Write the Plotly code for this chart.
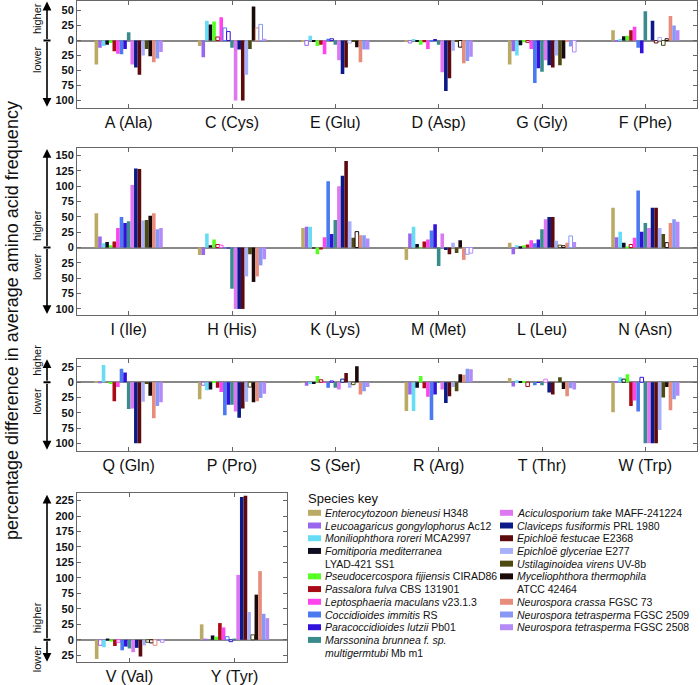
import plotly.graph_objects as go

W, H = 700, 685

# ---------------- data ----------------
SPECIES = [
    ["<i>Enterocytozoon bieneusi</i> H348"],
    ["<i>Leucoagaricus gongylophorus</i> Ac12"],
    ["<i>Moniliophthora roreri</i> MCA2997"],
    ["<i>Fomitiporia mediterranea</i>", "LYAD-421 SS1"],
    ["<i>Pseudocercospora fijiensis</i> CIRAD86"],
    ["<i>Passalora fulva</i> CBS 131901"],
    ["<i>Leptosphaeria maculans</i> v23.1.3"],
    ["<i>Coccidioides immitis</i> RS"],
    ["<i>Paracoccidioides lutzii</i> Pb01"],
    ["<i>Marssonina brunnea f. sp.</i>", "<i>multigermtubi</i> Mb m1"],
    ["<i>Aciculosporium take</i> MAFF-241224"],
    ["<i>Claviceps fusiformis</i> PRL 1980"],
    ["<i>Epichloë festucae</i> E2368"],
    ["<i>Epichloë glyceriae</i> E277"],
    ["<i>Ustilaginoidea virens</i> UV-8b"],
    ["<i>Myceliophthora thermophila</i>", "ATCC 42464"],
    ["<i>Neurospora crassa</i> FGSC 73"],
    ["<i>Neurospora tetrasperma</i> FGSC 2509"],
    ["<i>Neurospora tetrasperma</i> FGSC 2508"],
]
COLORS = ["#bbaa66", "#9966ee", "#66ddf5", "#0d0d1f", "#55ff22", "#aa0a14",
          "#ff44ee", "#4a7af0", "#3311dd", "#3a8c8c", "#dd77f2", "#0a1a88",
          "#5c0a0e", "#a8b0fa", "#4d4a12", "#1a0a0a", "#e88c7c", "#8899f5",
          "#b38af7"]

ROW1 = ["A (Ala)", "C (Cys)", "E (Glu)", "D (Asp)", "G (Gly)", "F (Phe)"]
ROW2 = ["I (Ile)", "H (His)", "K (Lys)", "M (Met)", "L (Leu)", "N (Asn)"]
ROW3 = ["Q (Gln)", "P (Pro)", "S (Ser)", "R (Arg)", "T (Thr)", "W (Trp)"]
ROW4 = ["V (Val)", "Y (Tyr)"]

# values per amino acid, one per species (order of SPECIES)
ala = [-40, -12, -9, -7, -4, -18, -22, -23, -14, 14, -40, -45, -57, -25, -14, -26, -36, -30, -19]
cys = [-9, -28, 33, 27, 32, 6, 39, 21, 15, -12, -100, -15, -100, -57, -14, 57, 21, 27, 2]
glu = [-2, -8, 8, -2, -9, -7, -23, 3, 3, -7, -33, -56, -45, -4, -2, -11, -36, -15, -15]
asp = [-1, -4, 1, -1, -7, -3, -14, -2, 1, -7, -53, -84, -63, -17, -2, -11, -38, -34, -27]
gly = [-40, -18, -25, -8, -3, -3, -14, -71, -46, -52, -33, -41, -45, -25, -41, -30, -1, -10, -19]
phe = [17, -1, 1, 7, 8, 17, 23, -12, -21, 49, 0, 33, -4, 5, -8, 3, 41, 25, 17]
ile = [56, 18, 7, 9, 4, 10, 32, 50, 40, 43, 102, 129, 128, 44, 45, 52, 56, 30, 32]
his = [-12, -12, 23, 4, 13, 5, 4, -1, -1, -67, -100, -100, -100, -47, -11, -56, -47, -29, -19]
lys = [32, 34, 34, -1, -11, -2, 17, 108, 22, 45, 100, 117, 141, 43, 16, 26, 20, 20, 15]
met = [-20, 23, 34, 6, -1, 10, 13, 28, 38, -30, 23, -4, -11, 8, -9, 12, -20, -11, -9]
leu = [8, -11, 4, 2, 4, 5, 12, 7, 13, 30, 46, 50, 50, 11, 4, 3, 8, 19, 9]
asn = [65, 17, 26, 8, 1, 5, 16, 93, 26, 40, 32, 65, 65, 32, 22, 8, 40, 46, 42]
gln = [1, -1, 28, 0, -3, -31, -8, 22, 16, -44, -43, -100, -100, -32, -2, -22, -59, -39, -33]
pro = [-28, -5, -13, -12, 2, -9, -16, -54, -37, -37, -48, -58, -43, -32, -8, -33, -31, -26, -19]
ser = [-1, -6, -2, -3, 10, 4, -1, -9, 2, -9, -12, 5, 15, -9, -4, 26, -20, -15, -8]
arg = [-47, -20, -47, -9, 10, -10, -24, -62, -20, -1, -12, -34, -23, -8, -15, 13, 12, 22, 21]
thr = [7, -7, 3, 1, 1, -7, 0, -5, -1, -5, 5, -17, -20, 0, 8, -11, -23, -10, -12]
trp = [-49, 1, 8, 5, 13, -39, -30, -48, 8, -100, -100, -100, -100, -78, -25, -8, -46, -28, -22]
val = [-31, -9, -12, 2, -3, -10, -4, -17, -11, -14, -20, -13, -27, -9, -4, -5, -9, -1, -4]
tyr = [25, 1, 0, 7, 5, 27, 20, 5, -3, 1, 105, 231, 233, 45, 8, 73, 111, 42, 35]

# species (1-based) whose difference is drawn as an open bar
OPEN = {
    "C (Cys)": [6, 8, 9, 17, 18, 19], "E (Glu)": [2, 9, 14], "D (Asp)": [2, 16],
    "G (Gly)": [6, 19], "F (Phe)": [13, 14, 15, 16], "H (His)": [6, 7],
    "K (Lys)": [16], "M (Met)": [18, 19], "L (Leu)": [15, 16, 18],
    "N (Asn)": [6, 16], "Q (Gln)": [1, 2], "P (Pro)": [2, 15],
    "S (Ser)": [6, 9, 12, 15], "T (Thr)": [6, 11], "W (Trp)": [2, 4, 9],
    "V (Val)": [2, 7, 15, 16, 17, 19], "Y (Tyr)": [2, 8, 9, 15],
}

ROWS = [
    (ROW1, [ala, cys, glu, asp, gly, phe], [-112, 66], list(range(-100, 51, 25))),
    (ROW2, [ile, his, lys, met, leu, asn], [-110, 163], list(range(-100, 151, 25))),
    (ROW3, [gln, pro, ser, arg, thr, trp], [-112, 38], list(range(-100, 26, 25))),
    (ROW4, [val, tyr], [-36, 238], list(range(-25, 226, 25))),
]

# ---------------- layout geometry (pixels) ----------------
PX_ROWS = [(1, 108), (148, 316), (360, 452), (494, 664)]
X_LEFT, X_RIGHT, X_RIGHT4 = 77, 697, 287
AXIS_COL = "#666666"
FONT = "Liberation Sans, Arial, sans-serif"

fig = go.Figure()
layout = dict(
    width=W, height=H, margin=dict(l=0, r=0, t=0, b=0),
    paper_bgcolor="white", plot_bgcolor="white",
    barmode="group", bargap=0.34, bargroupgap=0.0, showlegend=False,
    font=dict(family=FONT, color="#111111"),
)
annotations, shapes = [], []

for r, (acids, vals, yr, tv) in enumerate(ROWS):
    sfx = "" if r == 0 else str(r + 1)
    xa, ya = "x" + sfx, "y" + sfx
    top, bot = PX_ROWS[r]
    xr = X_RIGHT4 if r == 3 else X_RIGHT
    for s in range(len(SPECIES)):
        ys = [v[s] for v in vals]
        is_open = [(s + 1) in OPEN.get(a, []) for a in acids]
        fig.add_trace(go.Bar(
            x=acids, y=ys, xaxis=xa, yaxis=ya,
            marker=dict(color=["white" if o else COLORS[s] for o in is_open],
                        line=dict(color=COLORS[s], width=[1 if o else 0 for o in is_open])),
            hoverinfo="skip",
        ))
    layout["xaxis" + sfx] = dict(
        domain=[X_LEFT / W, xr / W], anchor=ya, type="category",
        range=[-0.5, len(acids) - 0.5], showline=True, mirror="ticks",
        linecolor=AXIS_COL, linewidth=1, ticks="inside", ticklen=4,
        tickcolor=AXIS_COL, showgrid=False, zeroline=False,
        tickfont=dict(size=16, family=FONT, color="#111111"),
    )
    layout["yaxis" + sfx] = dict(
        domain=[1 - bot / H, 1 - top / H], anchor=xa, range=yr,
        tickvals=tv, ticktext=[str(abs(t)) for t in tv],
        showline=True, mirror="ticks", linecolor=AXIS_COL, linewidth=1,
        ticks="inside", ticklen=4, tickcolor=AXIS_COL, showgrid=False,
        zeroline=True, zerolinecolor="#888888", zerolinewidth=1.5,
        tickfont=dict(size=11, family=FONT, color="#111111", weight="bold"),
    )
    # higher / lower labels
    annotations.append(dict(xref="paper", yref=ya, x=37 / W, y=0, text="higher",
                            textangle=-90, showarrow=False, xanchor="center",
                            yanchor="bottom", yshift=4, font=dict(size=11, family=FONT)))
    annotations.append(dict(xref="paper", yref=ya, x=37 / W, y=0, text="lower",
                            textangle=-90, showarrow=False, xanchor="center",
                            yanchor="top", yshift=-4, font=dict(size=11, family=FONT)))
    # double arrow
    for end in (yr[1], yr[0]):
        annotations.append(dict(xref="paper", yref=ya, x=47 / W, y=end * 0.985,
                                axref="pixel", ayref=ya, ax=0, ay=0, text="",
                                showarrow=True, arrowhead=2, arrowsize=1.1,
                                arrowwidth=1.6, arrowcolor="black"))
    shapes.append(dict(type="line", xref="paper", yref=ya, x0=43.5 / W, x1=50.5 / W,
                       y0=0, y1=0, line=dict(color="black", width=2)))

# y title
annotations.append(dict(xref="paper", yref="paper", x=12 / W, y=1 - 322 / H,
                        text="percentage difference in average amino acid frequency",
                        textangle=-90, showarrow=False, xanchor="center", yanchor="middle",
                        font=dict(size=18, family=FONT, color="#111111")))

# species key
annotations.append(dict(xref="paper", yref="paper", x=306 / W, y=1 - 500 / H,
                        text="Species key", showarrow=False, xanchor="left",
                        yanchor="middle", font=dict(size=13, family=FONT, color="#111111")))
LINE_H = 12.75
cols = [(range(0, 10), 308, 323), (range(10, 19), 500, 515)]
for idxs, sx, tx in cols:
    yline = 514.3
    for s in idxs:
        shapes.append(dict(type="rect", xref="paper", yref="paper",
                           x0=sx / W, x1=(sx + 13) / W,
                           y0=1 - (yline + 3) / H, y1=1 - (yline - 3) / H,
                           fillcolor=COLORS[s], line=dict(width=0)))
        for ln in SPECIES[s]:
            annotations.append(dict(xref="paper", yref="paper", x=tx / W, y=1 - yline / H,
                                    text=ln, showarrow=False, xanchor="left",
                                    yanchor="middle",
                                    font=dict(size=10.5, family=FONT, color="#111111")))
            yline += LINE_H

layout["annotations"] = annotations
layout["shapes"] = shapes
fig.update_layout(**layout)
fig.write_html("out.html", config={"displayModeBar": False},
               post_script="document.body.style.margin='0px';")
